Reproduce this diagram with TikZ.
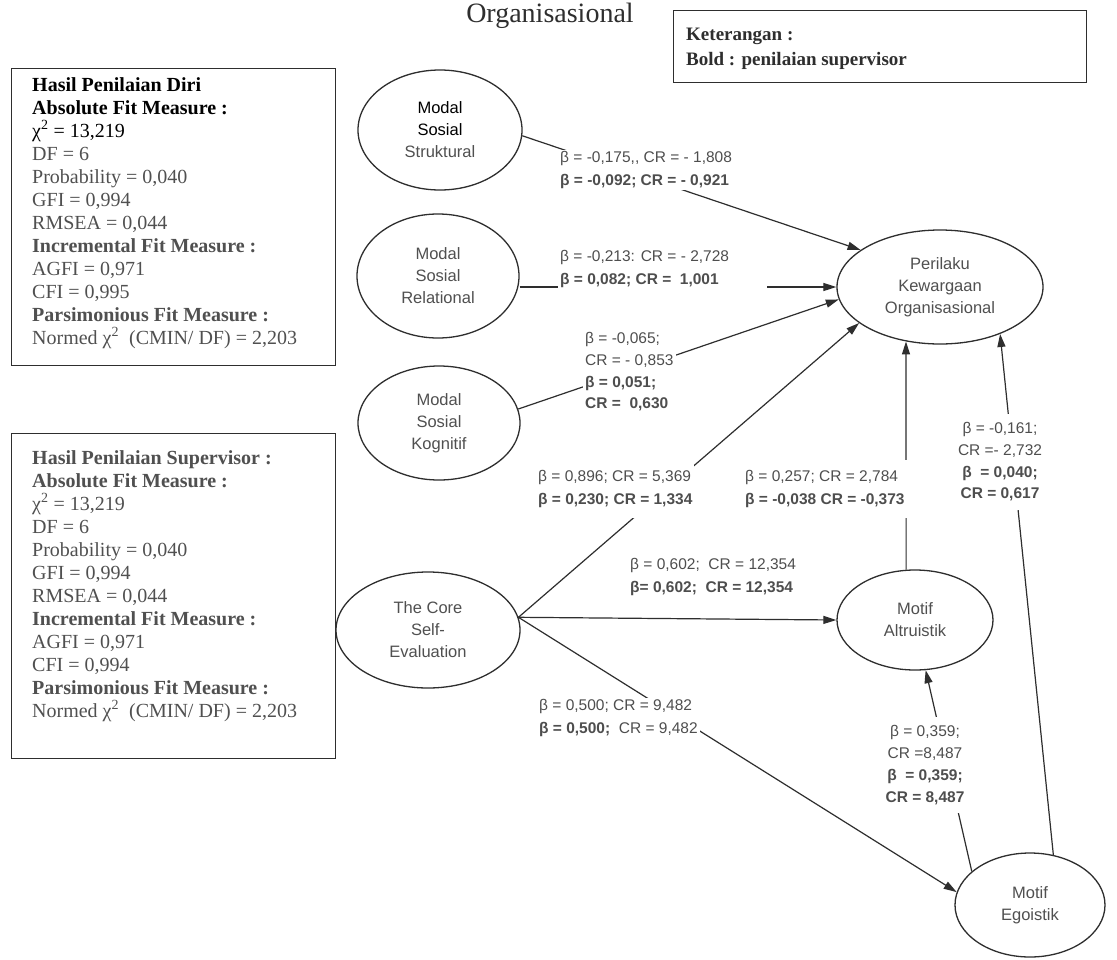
\documentclass[tikz,border=0pt]{standalone}
\usepackage{fontspec}
\setmainfont{Liberation Serif}
\newfontfamily\lsans{Liberation Sans}
\usetikzlibrary{shapes.geometric,arrows.meta}
\definecolor{ink}{HTML}{2E2E2E}
\definecolor{soft}{HTML}{505050}
\definecolor{lbl}{HTML}{4E4E4E}
\begin{document}
\begin{tikzpicture}[x=1pt,y=-1pt,
  latent/.style={ellipse, draw=ink, line width=1.3pt, inner sep=0pt, align=center, text=soft,
    font=\lsans\fontsize{16.5}{22}\selectfont},
  fitbox/.style={draw=ink, line width=1.2pt, inner sep=0pt, anchor=north west},
  fittext/.style={anchor=north west, align=left, inner sep=0pt, text=soft,
    font=\fontsize{20}{23}\selectfont},
  conn/.style={draw=ink, line width=1.2pt},
  arr/.style={conn, -{Triangle[length=13pt,width=8pt]}},
  coef/.style={fill=white, inner sep=2pt, align=left, anchor=west, text=lbl,
    font=\lsans\fontsize{15.5}{22.5}\selectfont},
  coefc/.style={coef, align=center, anchor=center, font=\lsans\fontsize{15.5}{21.7}\selectfont},
]
\fill[white] (0,0) rectangle (1117,959);
\useasboundingbox (0,0) rectangle (1117,959);

% title and legend
\node[font=\fontsize{28}{30}\selectfont, text=ink, inner sep=0pt] (title) at (550,16) {Organisasional};
\node[fitbox, minimum width=413pt, minimum height=72pt] (ket) at (673,10) {};
\node[anchor=north west, align=left, inner sep=0pt, text=ink,
  font=\bfseries\fontsize{19}{25}\selectfont] (kettext) at (686,28)
  {Keterangan :\\Bold : penilaian supervisor};

% fit boxes
\node[fitbox, minimum width=324pt, minimum height=297pt] (box1) at (11,68) {};
\node[fittext] (fit1) at (32,77) {%
\textcolor{black}{\textbf{Hasil Penilaian Diri}}\\
\textcolor{black}{\textbf{Absolute Fit Measure :}}\\
\textcolor{black}{χ\textsuperscript{2} = 13,219}\\
DF = 6\\
Probability = 0,040\\
GFI = 0,994\\
RMSEA = 0,044\\
\textbf{Incremental Fit Measure :}\\
AGFI = 0,971\\
CFI = 0,995\\
\textbf{Parsimonious Fit Measure :}\\
Normed χ\textsuperscript{2}~ (CMIN/ DF) = 2,203};

\node[fitbox, minimum width=324pt, minimum height=325pt] (box2) at (11,433) {};
\node[fittext] (fit2) at (32,450) {%
\textbf{Hasil Penilaian Supervisor :}\\
\textbf{Absolute Fit Measure :}\\
χ\textsuperscript{2} = 13,219\\
DF = 6\\
Probability = 0,040\\
GFI = 0,994\\
RMSEA = 0,044\\
\textbf{Incremental Fit Measure :}\\
AGFI = 0,971\\
CFI = 0,994\\
\textbf{Parsimonious Fit Measure :}\\
Normed χ\textsuperscript{2}~ (CMIN/ DF) = 2,203};

% latent variables
\node[latent, minimum width=164pt, minimum height=120pt] (str) at (440,130)
  {\textcolor{black}{Modal}\\\textcolor{black}{Sosial}\\Struktural};
\node[latent, minimum width=162pt, minimum height=124pt] (rel) at (438,276) {Modal\\Sosial\\Relational};
\node[latent, minimum width=162pt, minimum height=114pt] (kog) at (439,423) {Modal\\Sosial\\Kognitif};
\node[latent, minimum width=184pt, minimum height=116pt] (core) at (428,630) {The Core\\Self-\\Evaluation};
\node[latent, minimum width=206pt, minimum height=114pt] (per) at (940,287) {Perilaku\\Kewargaan\\Organisasional};
\node[latent, minimum width=156pt, minimum height=100pt] (alt) at (915,620) {Motif\\Altruistik};
\node[latent, minimum width=150pt, minimum height=104pt] (ego) at (1030,905) {Motif\\Egoistik};

% connectors
\coordinate (apex) at (core.8);
\draw[arr] (str.-4) -- (per.155);
\draw[arr] (rel.east |- per.west) -- (per.west);
\draw[arr] (kog.10) -- (per.187);
\draw[arr] (apex) -- (per.204);
\draw[arr] (apex) -- (alt.west);
\draw[arr] (apex) -- (ego.170);
\draw[arr] (alt.100) -- (per.238.6);
\draw[arr] (ego.150) -- (alt.-78);
\draw[arr] (ego.65) -- (per.-38);

% coefficient labels
\node[coef] (c1) at (558,170) {β = -0,175,, CR = - 1,808\\\textbf{β = -0,092; CR = - 0,921}};
\node[coef] (c2) at (558,269) {β = -0,213: CR = - 2,728\hspace*{36pt}\\\textbf{β = 0,082; CR = ~1,001}};
\node[coef, font=\lsans\fontsize{15.5}{21.7}\selectfont] (c3) at (583,372)
  {β = -0,065;\\CR = - 0,853\\\textbf{β = 0,051;}\\\textbf{CR = ~0,630}};
\node[coef, inner ysep=11pt] (c4) at (536,489) {β = 0,896; CR = 5,369\\\textbf{β = 0,230; CR = 1,334}};
\node[coef, inner ysep=11pt] (c5) at (743,489) {β = 0,257; CR = 2,784\\\textbf{β = -0,038 CR = -0,373}};
\node[coefc, inner ysep=9pt] (c6) at (1000,462) {β = -0,161;\\CR =- 2,732\\\textbf{β ~= 0,040;}\\\textbf{CR = 0,617}};
\node[coef] (c7) at (628,577) {β = 0,602; ~CR = 12,354\\\textbf{β= 0,602; ~CR = 12,354}};
\node[coef] (c8) at (537,718) {β = 0,500; CR = 9,482\\\textbf{β = 0,500;} ~CR = 9,482};
\node[coefc, inner ysep=8pt, font=\lsans\fontsize{15.5}{22}\selectfont] (c9) at (925,765)
  {β = 0,359;\\CR =8,487\\\textbf{β ~= 0,359;}\\\textbf{CR = 8,487}};
\end{tikzpicture}
\end{document}
